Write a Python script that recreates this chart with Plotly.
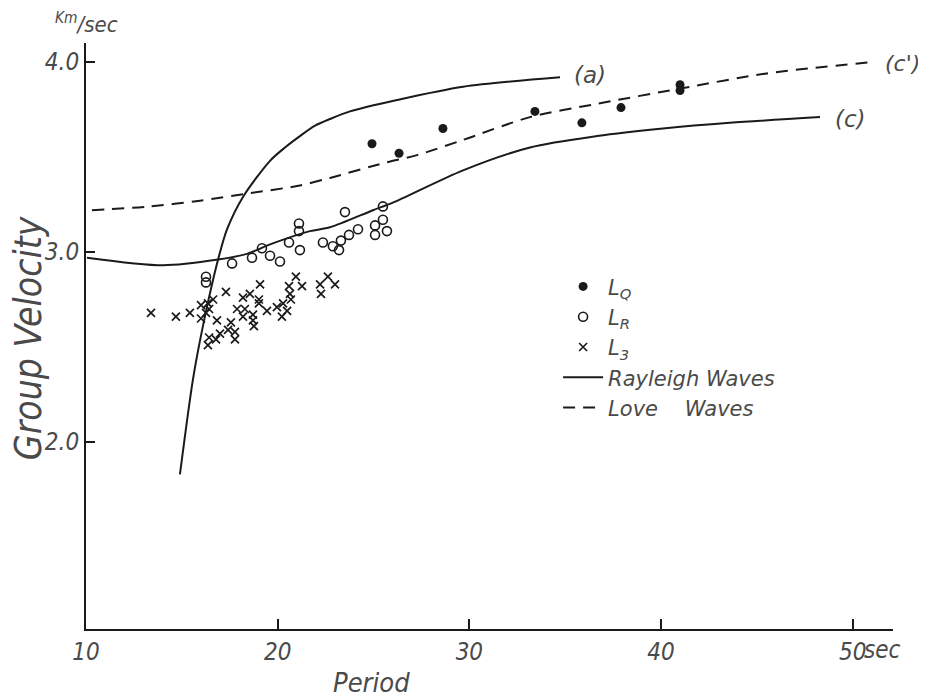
import plotly.graph_objects as go

# ---- data ----
# Rayleigh wave curve (a)
ray_a_period = [14.90, 15.58, 16.10, 16.89, 17.36, 18.19, 19.60, 20.38, 21.16, 21.95, 22.73, 23.77, 26.22, 29.67, 34.73]
ray_a_vel    = [1.83, 2.33, 2.61, 2.96, 3.12, 3.29, 3.48, 3.55, 3.61, 3.665, 3.70, 3.74, 3.80, 3.87, 3.92]
# Rayleigh wave curve (c)
ray_c_period = [10.05, 14.02, 16.89, 18.40, 19.60, 21.68, 22.73, 24.97, 26.01, 29.67, 33.16, 36.66, 40.10, 43.59, 48.29]
ray_c_vel    = [2.97, 2.93, 2.96, 2.99, 3.04, 3.11, 3.13, 3.22, 3.26, 3.43, 3.55, 3.61, 3.65, 3.68, 3.71]
# Love wave curve (c')
love_period = [10.31, 13.34, 15.95, 18.56, 21.16, 22.73, 25.60, 27.27, 29.67, 33.16, 36.66, 40.99, 45.52, 51.05]
love_vel    = [3.22, 3.24, 3.27, 3.31, 3.35, 3.39, 3.47, 3.51, 3.59, 3.71, 3.78, 3.86, 3.94, 4.00]

# L_Q observations (filled dots)
lq_period = [24.92, 26.33, 28.62, 33.42, 35.87, 37.91, 40.99, 40.99]
lq_vel    = [3.57, 3.52, 3.65, 3.74, 3.68, 3.76, 3.88, 3.85]

# L_R observations (open circles)
lr_period = [16.26, 16.26, 17.62, 18.66, 19.18, 19.60, 20.12, 20.59, 21.11, 21.11, 21.16,
             22.36, 22.88, 23.20, 23.30, 23.72, 24.19, 23.51, 25.08, 25.08, 25.49, 25.49, 25.70]
lr_vel    = [2.87, 2.84, 2.94, 2.97, 3.02, 2.98, 2.95, 3.05, 3.15, 3.11, 3.01,
             3.05, 3.03, 3.01, 3.06, 3.09, 3.12, 3.21, 3.14, 3.09, 3.17, 3.24, 3.11]

# L_3 observations (crosses)
l3_period = [13.39, 14.69, 15.42, 16.00, 16.36, 16.63, 16.26, 16.00, 17.30, 16.83, 16.42, 16.36,
             16.78, 16.99, 17.41, 17.56, 17.77, 17.77, 19.08, 18.19, 18.55, 19.02, 19.02, 17.88,
             18.29, 18.19, 18.71, 18.71, 18.76, 19.44, 19.96, 20.28, 20.49, 20.22, 20.59, 20.64,
             20.69, 20.95, 21.27, 22.21, 22.26, 22.62, 22.99, 16.42]
l3_vel    = [2.68, 2.66, 2.68, 2.72, 2.73, 2.75, 2.68, 2.65, 2.79, 2.64, 2.55, 2.51,
             2.54, 2.57, 2.59, 2.63, 2.58, 2.54, 2.83, 2.76, 2.78, 2.75, 2.73, 2.70,
             2.70, 2.66, 2.67, 2.64, 2.61, 2.69, 2.71, 2.73, 2.69, 2.66, 2.82, 2.78,
             2.75, 2.87, 2.82, 2.83, 2.78, 2.87, 2.83, 2.70]

x_tickvals = [10, 20, 30, 40, 50]
x_ticktext = ["10", "20", "30", "40", "50"]
y_tickvals = [2, 3, 4]
y_ticktext = ["2.0", "3.0", "4.0"]

INK = "#1a1a1a"
TXT = "#4a4a4a"
NARROW = "DejaVu Sans Condensed, DejaVu Sans"
WIDE = "DejaVu Sans"

fig = go.Figure()

fig.add_trace(go.Scatter(x=lq_period, y=lq_vel, mode="markers", name="L<sub>Q</sub>",
                         marker=dict(symbol="circle", size=9, color=INK)))
fig.add_trace(go.Scatter(x=lr_period, y=lr_vel, mode="markers", name="L<sub>R</sub>",
                         marker=dict(symbol="circle-open", size=9, color=INK, line=dict(width=1.6))))
fig.add_trace(go.Scatter(x=l3_period, y=l3_vel, mode="markers", name="L<sub>3</sub>",
                         marker=dict(symbol="x-thin", size=8, color=INK, line=dict(width=1.7, color=INK))))
fig.add_trace(go.Scatter(x=ray_a_period, y=ray_a_vel, mode="lines", name="Rayleigh Waves",
                         line=dict(color=INK, width=2, shape="spline", smoothing=0.8),
                         legendgroup="ray"))
fig.add_trace(go.Scatter(x=ray_c_period, y=ray_c_vel, mode="lines", name="Rayleigh Waves",
                         line=dict(color=INK, width=2, shape="spline", smoothing=0.8),
                         legendgroup="ray", showlegend=False))
fig.add_trace(go.Scatter(x=love_period, y=love_vel, mode="lines", name="Love    Waves",
                         line=dict(color=INK, width=2, dash="12px,8px", shape="spline", smoothing=0.8)))

def f(size, family=NARROW):
    return dict(family=family, size=size, color=TXT, style="italic")

annotations = [
    dict(x=35.35, y=3.93, xref="x", yref="y", text="(a)", showarrow=False, xanchor="left", font=f(23, WIDE)),
    dict(x=48.97, y=3.70, xref="x", yref="y", text="(c)", showarrow=False, xanchor="left", font=f(23, WIDE)),
    dict(x=51.6, y=3.99, xref="x", yref="y", text="(c')", showarrow=False, xanchor="left", font=f(22, WIDE)),
    dict(x=-0.0719, y=0.498, xref="paper", yref="paper", text="Group Velocity", textangle=-90,
         xanchor="center", yanchor="middle", showarrow=False, font=f(37, NARROW)),
    dict(x=0.354, y=-0.092, xref="paper", yref="paper", text="Period",
         xanchor="center", yanchor="middle", showarrow=False, font=f(27)),
    dict(x=0.0, y=1.034, xref="paper", yref="paper", text="<sup>Km</sup>/sec",
         xanchor="center", yanchor="middle", showarrow=False, font=f(22)),
    dict(x=0.9616, y=-0.035, xref="paper", yref="paper", text="sec",
         xanchor="left", yanchor="middle", showarrow=False, font=f(24)),
]

# page body has an 8px margin: margins below are compensated so the plot area
# lands at screen x 86..893, y 43..629
fig.update_layout(
    width=926, height=698,
    margin=dict(l=78, r=41, t=35, b=77),
    paper_bgcolor="white", plot_bgcolor="white",
    showlegend=True,
    legend=dict(x=0.585, y=0.619, xanchor="left", yanchor="top", bgcolor="rgba(0,0,0,0)",
                font=f(21, WIDE), tracegroupgap=0, itemwidth=40),
    annotations=annotations,
)
fig.update_xaxes(range=[10, 52.1], tickvals=x_tickvals, ticktext=x_ticktext,
                 showgrid=False, zeroline=False, showline=True, linecolor=INK, linewidth=2,
                 ticks="inside", ticklen=10, tickwidth=1.5, tickcolor=INK,
                 tickfont=f(24))
fig.update_yaxes(range=[1.016, 4.1], tickvals=y_tickvals, ticktext=y_ticktext,
                 showgrid=False, zeroline=False, showline=True, linecolor=INK, linewidth=2,
                 ticks="inside", ticklen=9, tickwidth=1.5, tickcolor=INK,
                 tickfont=f(24))

fig.write_html("out.html")
